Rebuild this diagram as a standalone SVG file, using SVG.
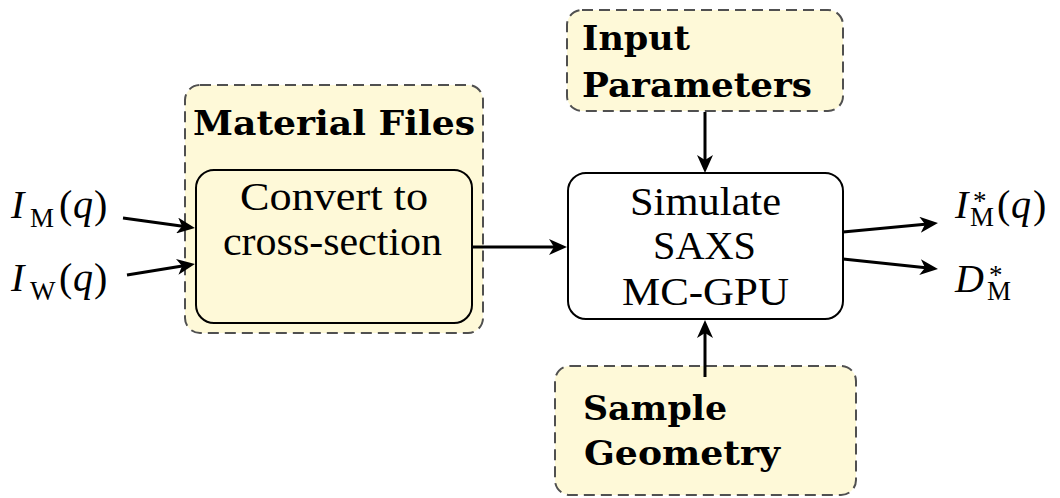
<svg xmlns="http://www.w3.org/2000/svg" width="1060" height="498" viewBox="0 0 1060 498">
  <style>
    .group { fill: #fef9d8; stroke: #505050; stroke-width: 2; stroke-dasharray: 11 6; }
    .proc { stroke: #000; stroke-width: 2; }
    .title { font-family: "DejaVu Serif", serif; font-weight: bold; font-size: 34px; fill: #000; }
    .body { font-family: "Liberation Serif", serif; font-size: 40px; fill: #000; text-anchor: middle; }
    .math { font-family: "Liberation Serif", serif; font-size: 40px; fill: #000; }
    .it { font-style: italic; }
    .sub { font-size: 27px; }
    .wire { stroke: #000; stroke-width: 3; fill: none; marker-end: url(#head); }
  </style>
  <defs>
    <marker id="head" markerUnits="userSpaceOnUse" markerWidth="18" markerHeight="16" viewBox="0 0 18 16" refX="13" refY="8" orient="auto">
      <path d="M0,0 L18,8 L0,16 L5,8 Z" fill="#000"/>
    </marker>
  </defs>

  <rect width="1060" height="498" fill="#fff"/>

  <!-- Material Files container with conversion step -->
  <g id="material-files">
    <rect class="group" x="185" y="85" width="298" height="248" rx="15"/>
    <text class="title" x="193" y="135" textLength="282" lengthAdjust="spacingAndGlyphs">Material Files</text>
  </g>
  <g id="convert">
    <rect class="proc" x="196" y="170" width="276" height="153" rx="18" fill="#fef9d8"/>
    <text class="body" x="334" y="210" textLength="188" lengthAdjust="spacingAndGlyphs">Convert to</text>
    <text class="body" x="332.5" y="255" textLength="219" lengthAdjust="spacingAndGlyphs">cross-section</text>
  </g>

  <!-- Input Parameters -->
  <g id="input-parameters">
    <rect class="group" x="567" y="10" width="276" height="101" rx="15"/>
    <text class="title" x="582" y="50" textLength="108" lengthAdjust="spacingAndGlyphs">Input</text>
    <text class="title" x="582" y="97" textLength="230" lengthAdjust="spacingAndGlyphs">Parameters</text>
  </g>

  <!-- Simulation step -->
  <g id="simulate">
    <rect class="proc" x="568" y="173" width="275" height="146" rx="18" fill="#fff"/>
    <text class="body" x="705.5" y="215" textLength="151" lengthAdjust="spacingAndGlyphs">Simulate</text>
    <text class="body" x="704.5" y="259" textLength="103" lengthAdjust="spacingAndGlyphs">SAXS</text>
    <text class="body" x="705.5" y="305" textLength="167" lengthAdjust="spacingAndGlyphs">MC-GPU</text>
  </g>

  <!-- Sample Geometry -->
  <g id="sample-geometry">
    <rect class="group" x="555" y="366" width="301" height="129" rx="15"/>
    <text class="title" x="583" y="420" textLength="144" lengthAdjust="spacingAndGlyphs">Sample</text>
    <text class="title" x="584" y="465" textLength="196" lengthAdjust="spacingAndGlyphs">Geometry</text>
  </g>

  <!-- Input spectra -->
  <g id="in-im">
    <text class="math"><tspan class="it" x="11" y="218">I</tspan><tspan class="sub" x="30" y="227">M</tspan><tspan x="59" y="218">(</tspan><tspan class="it" x="73" y="218">q</tspan><tspan x="94" y="218">)</tspan></text>
  </g>
  <g id="in-iw">
    <text class="math"><tspan class="it" x="11" y="291">I</tspan><tspan class="sub" x="30" y="300">W</tspan><tspan x="59" y="291">(</tspan><tspan class="it" x="73" y="291">q</tspan><tspan x="94" y="291">)</tspan></text>
  </g>

  <!-- Outputs -->
  <g id="out-im">
    <text class="math"><tspan class="it" x="955" y="218">I</tspan><tspan class="sub" x="973" y="210">*</tspan><tspan class="sub" x="970" y="226">M</tspan><tspan x="997" y="218">(</tspan><tspan class="it" x="1011" y="218">q</tspan><tspan x="1033" y="218">)</tspan></text>
  </g>
  <g id="out-dm">
    <text class="math"><tspan class="it" x="955" y="292">D</tspan><tspan class="sub" x="989" y="284">*</tspan><tspan class="sub" x="987" y="300">M</tspan></text>
  </g>

  <!-- Connectors -->
  <g id="connectors">
    <line class="wire" x1="123" y1="218" x2="190" y2="227.3"/>
    <line class="wire" x1="127" y1="275" x2="190" y2="264.8"/>
    <line class="wire" x1="472" y1="247" x2="562" y2="247"/>
    <line class="wire" x1="705" y1="112" x2="705" y2="168"/>
    <line class="wire" x1="705" y1="377" x2="705" y2="325"/>
    <line class="wire" x1="843" y1="232" x2="933" y2="223.5"/>
    <line class="wire" x1="843" y1="259" x2="933" y2="268.5"/>
  </g>
</svg>
